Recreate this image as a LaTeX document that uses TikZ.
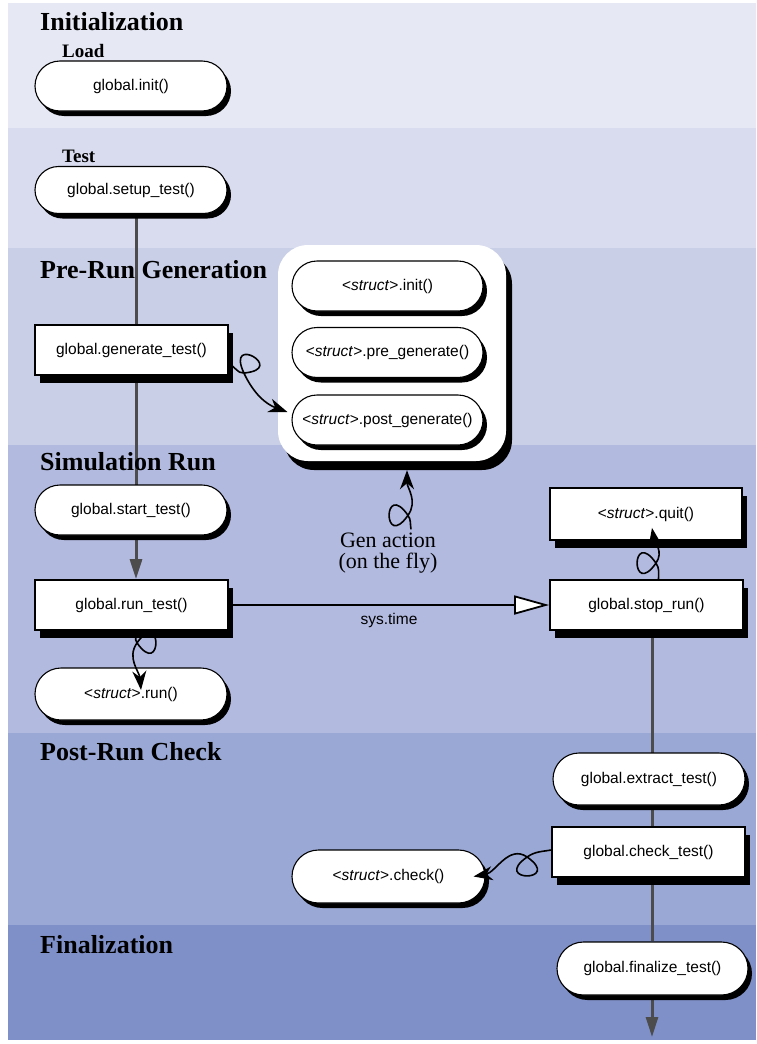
\documentclass[tikz,border=0pt]{standalone}
\usepackage{fontspec}
\setmainfont{Liberation Serif}
\setsansfont{Liberation Sans}
\usepackage{tikz}
\usetikzlibrary{arrows.meta,positioning,calc,shapes.misc,shadows,backgrounds}
\definecolor{bandA}{HTML}{E6E8F4}
\definecolor{bandB}{HTML}{D8DCEE}
\definecolor{bandC}{HTML}{CACFE8}
\definecolor{bandD}{HTML}{B2BAE0}
\definecolor{bandE}{HTML}{9AA8D5}
\definecolor{bandF}{HTML}{7F90C9}
\pgfdeclarelayer{bands}
\pgfsetlayers{bands,background,main}
\newcommand{\nodefont}{\fontsize{15.5}{18}\selectfont\sffamily}
\newcommand{\strct}{{<}\textit{struct}{>}}

\begin{document}
\begin{tikzpicture}[
  x=1pt, y=1pt,
  phase/.style={anchor=base west, inner sep=0pt, font=\fontsize{26}{30}\selectfont\bfseries},
  sub/.style={anchor=base west, inner sep=0pt, font=\fontsize{19}{22}\selectfont\bfseries},
  pill/.style={rounded rectangle, draw, line width=1.1pt, fill=white, inner sep=0pt,
               minimum width=192pt, minimum height=50pt, font=\nodefont,
               drop shadow={shadow xshift=4pt, shadow yshift=-5pt, opacity=1, fill=black}},
  proc/.style={rectangle, draw, line width=1.8pt, fill=white, inner sep=0pt,
               minimum width=193pt, minimum height=50pt, font=\nodefont,
               drop shadow={shadow xshift=5pt, shadow yshift=-8pt, opacity=1, fill=black}},
  groupbox/.style={rectangle, rounded corners=30pt, fill=white,
               minimum width=228pt, minimum height=216pt,
               drop shadow={shadow xshift=6pt, shadow yshift=-9pt, opacity=1, fill=black}},
  flow/.style={draw=black!70, line width=3pt},
  flowarr/.style={flow, -{Triangle[length=20pt, width=12pt]}},
  call/.style={line width=1.6pt, -{Stealth[length=19pt, width=14pt, inset=6pt]}}]
\useasboundingbox (0,0) rectangle (756,-1044);

% phase bands
\begin{pgfonlayer}{bands}
\foreach \ytop/\ybot/\col in {3/128/bandA, 128/248/bandB, 248/445/bandC,
                              445/733/bandD, 733/925/bandE, 925/1040/bandF}
  \fill[\col] (8,-\ytop) rectangle (756,-\ybot);
\end{pgfonlayer}

\node[phase] (tinit) at (40,-30) {Initialization};
\node[sub]   (tload) at (62,-57) {Load};
\node[sub]   (ttest) at (62,-162) {Test};
\node[phase] (tgen)  at (40,-278) {Pre-Run Generation};
\node[phase] (tsim)  at (40,-470) {Simulation Run};
\node[phase] (tpost) at (40,-760) {Post-Run Check};
\node[phase] (tfin)  at (40,-953) {Finalization};

% left column
\node[pill] (init)  at (131,-86)    {global.init()};
\node[pill, minimum height=47pt] (setup) at (131,-190) {global.setup\_test()};
\node[proc] (gent)  at (131.5,-350) {global.generate\_test()};
\node[pill] (start) at (131,-510)   {global.start\_test()};
\node[proc] (runt)  at (131.5,-605) {global.run\_test()};
\node[pill, minimum height=52pt] (srun) at (131,-694) {\strct.run()};

% generation group
\node[groupbox] (genbox) at (392,-353) {};
\node[pill, minimum width=191pt] (sinit) at (387.5,-286)   {\strct.init()};
\node[pill, minimum width=191pt] (spre)  at (387.5,-352.5) {\strct.pre\_generate()};
\node[pill, minimum width=191pt] (spost) at (387.5,-420)   {\strct.post\_generate()};
\node[font=\fontsize{22}{21}\selectfont, align=center] (genact) at (388,-553)
  {Gen action\\(on the fly)};

% right column
\node[proc, minimum width=192pt, minimum height=52pt] (quit) at (646,-514) {\strct.quit()};
\node[proc] (stop)    at (646.5,-605) {global.stop\_run()};
\node[pill, minimum height=52pt] (extract) at (649,-779) {global.extract\_test()};
\node[proc] (checkt)  at (648.5,-852) {global.check\_test()};
\node[pill, minimum width=193pt, minimum height=53pt] (scheck) at (388.5,-876.5) {\strct.check()};
\node[pill, minimum width=191pt, minimum height=53pt] (final) at (652.5,-968.5) {global.finalize\_test()};
\coordinate (fend) at (652,-1037);

% main flow
\begin{pgfonlayer}{background}
\draw[flowarr] ([xshift=5pt]setup.south) -- ([xshift=4.5pt]runt.north);
\draw[flow] ([xshift=5.5pt]stop.south) -- ([xshift=-0.5pt]final.north);
\draw[flowarr] ([xshift=-0.5pt]final.south) -- (fend);
\end{pgfonlayer}
\draw[line width=1.8pt, -{Triangle[length=35pt, width=19pt, fill=white]}]
  (runt.east) -- (stop.west) node[midway, below=4pt, font=\nodefont] {sys.time};

% calls (pigtail loops)
\coordinate (l1) at ($(gent.east)+(15,-23)$);
\draw[call] ([yshift=-14pt]gent.east) to[out=-20, in=185] (l1)
  .. controls +(5:44) and +(115:44) .. (l1)
  to[out=-65, in=160] ([xshift=-4pt, yshift=8pt]spost.west);
\coordinate (l2) at ($(genact.north)+(20,14)$);
\draw[call] ([xshift=23pt]genact.north) to[out=100, in=-55] (l2)
  .. controls +(125:44) and +(235:44) .. (l2)
  to[out=55, in=-90] ([xshift=15pt, yshift=-9pt]genbox.south);
\coordinate (l3) at ($(runt.south)+(5.5,-12)$);
\draw[call] ([xshift=5pt]runt.south) to[out=-90, in=125] (l3)
  .. controls +(-55:44) and +(55:44) .. (l3)
  to[out=-125, in=95] ([xshift=10pt, yshift=4pt]srun.center);
\coordinate (l4) at ($(stop.north)+(9.5,16)$);
\draw[call] ([xshift=12pt]stop.north) to[out=90, in=-55] (l4)
  .. controls +(125:44) and +(235:44) .. (l4)
  to[out=55, in=-80] ([xshift=6pt, yshift=13pt]quit.south);
\coordinate (l5) at ($(checkt.west)+(-24,-5)$);
\draw[call] ([yshift=2pt]checkt.west) to[out=190, in=35] (l5)
  .. controls +(215:44) and +(325:44) .. (l5)
  to[out=145, in=10] ([xshift=-12pt]scheck.east);
\end{tikzpicture}
\end{document}
